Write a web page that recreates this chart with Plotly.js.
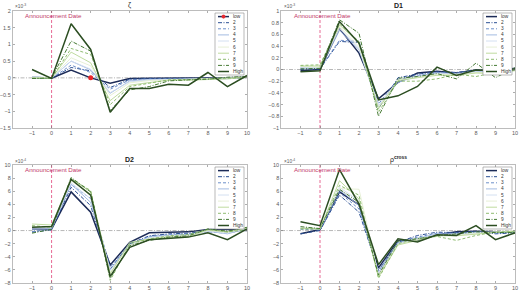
<!DOCTYPE html>
<html>
<head>
<meta charset="utf-8">
<script src="https://cdn.plot.ly/plotly-3.0.1.min.js"></script>
<style>html,body{margin:0;padding:0;background:#fff;}#chart{width:520px;height:293px;}</style>
</head>
<body>
<div id="chart"></div>
<script>
// ---------- DATA ----------
const periods = [-1, 0, 1, 2, 3, 4, 5, 6, 7, 8, 9, 10];
const xTickVals = [-1, 0, 1, 2, 3, 4, 5, 6, 7, 8, 9, 10];
const groupNames = ['low', '2', '3', '4', '5', '6', '7', '8', '9', 'High'];
const panelTitles = ['ζ', '<b>D1</b>', '<b>D2</b>', 'ρ<sup><b>cross</b></sup>'];
const panelExponents = ['-3', '-3', '-4', '-4'];
const eventLabel = 'Announcement Date';
const eventPeriod = 0;
const markedPeriod = 2;

// ζ (x 10^-3)
const zetaLow  = [0.02, -0.01, 0.23, 0.00, -0.16, -0.02, -0.01, -0.01, -0.02, -0.01, 0.00, 0.02];
const zeta2    = [-0.02, -0.01, 0.31, 0.21, -0.29, -0.04, -0.02, -0.02, -0.03, -0.02, -0.01, 0.01];
const zeta3    = [0.01, -0.01, 0.38, 0.16, -0.34, -0.06, -0.03, -0.03, -0.04, -0.03, -0.02, 0.02];
const zeta4    = [0.03, 0.00, 0.50, 0.24, -0.46, -0.09, -0.05, -0.04, -0.05, -0.03, -0.02, 0.03];
const zeta5    = [0.03, 0.00, 0.50, 0.26, -0.44, -0.12, -0.06, -0.05, -0.05, -0.04, -0.03, 0.03];
const zeta6    = [0.02, 0.00, 0.60, 0.36, -0.53, -0.15, -0.08, -0.06, -0.06, -0.04, -0.02, 0.02];
const zeta7    = [0.00, -0.01, 0.77, 0.45, -0.68, -0.22, -0.14, -0.07, -0.07, -0.05, -0.03, 0.02];
const zeta8    = [-0.01, -0.02, 0.88, 0.70, -0.80, -0.26, -0.16, -0.06, -0.05, -0.04, -0.01, 0.01];
const zeta9    = [-0.02, 0.00, 1.10, 0.80, -0.98, -0.36, -0.26, -0.09, -0.06, -0.04, 0.02, 0.04];
const zetaHigh = [0.25, -0.02, 1.62, 0.85, -1.03, -0.32, -0.32, -0.19, -0.22, 0.16, -0.26, 0.07];

// D1 (x 10^-3)
const d1Low  = [-0.02, 0.00, 0.70, 0.28, -0.50, -0.22, -0.06, -0.03, -0.06, -0.01, -0.02, 0.02];
const d1_2   = [0.00, 0.01, 0.48, 0.46, -0.67, -0.14, -0.08, -0.04, -0.05, -0.01, -0.03, 0.01];
const d1_3   = [0.02, 0.02, 0.50, 0.48, -0.59, -0.17, -0.10, -0.05, -0.06, -0.02, -0.04, 0.00];
const d1_4   = [0.03, 0.02, 0.67, 0.34, -0.63, -0.22, -0.11, -0.06, -0.07, -0.03, -0.05, -0.01];
const d1_5   = [0.04, 0.03, 0.70, 0.36, -0.62, -0.19, -0.12, -0.07, -0.08, -0.04, -0.05, 0.00];
const d1_6   = [0.05, 0.04, 0.73, 0.39, -0.64, -0.18, -0.13, -0.08, -0.09, -0.05, -0.06, -0.01];
const d1_7   = [0.06, 0.06, 0.76, 0.46, -0.67, -0.19, -0.14, -0.10, -0.10, -0.06, -0.07, -0.02];
const d1_8   = [0.07, 0.08, 0.78, 0.48, -0.73, -0.20, -0.20, -0.16, -0.08, -0.12, -0.05, -0.01];
const d1_9   = [0.01, 0.02, 0.85, 0.62, -0.80, -0.15, -0.12, -0.07, -0.16, 0.11, -0.14, 0.03];
const d1High = [-0.04, -0.02, 0.82, 0.45, -0.52, -0.45, -0.29, 0.04, -0.10, -0.01, -0.02, 0.00];

// D2 (x 10^-4)
const d2Low  = [0.25, 0.25, 5.9, 2.8, -5.25, -1.8, -0.35, -0.25, -0.2, 0.15, 0.15, 0.0];
const d2_2   = [-0.25, 0.1, 6.6, 3.8, -5.9, -2.0, -0.8, -0.5, -0.4, -0.1, -0.3, 0.1];
const d2_3   = [-0.15, 0.2, 7.0, 4.9, -5.6, -2.1, -0.9, -0.6, -0.5, -0.2, -0.4, 0.2];
const d2_4   = [0.2, 0.3, 7.1, 4.3, -6.0, -2.2, -1.0, -0.7, -0.6, -0.1, -0.5, 0.3];
const d2_5   = [0.4, 0.4, 7.3, 4.8, -6.1, -2.3, -1.1, -0.8, -0.7, -0.1, -0.4, 0.3];
const d2_6   = [0.6, 0.6, 7.6, 5.6, -6.4, -2.2, -1.2, -0.9, -0.8, 0.0, -0.3, 0.4];
const d2_7   = [1.0, 0.85, 7.9, 5.9, -6.6, -1.8, -1.3, -1.0, -0.9, 0.1, -0.2, 0.4];
const d2_8   = [0.75, 0.5, 7.9, 6.1, -7.6, -2.0, -1.3, -0.8, -0.6, 0.2, -0.2, 0.1];
const d2_9   = [-0.4, 0.2, 8.1, 5.9, -7.3, -2.3, -1.5, -1.0, -0.8, 0.25, -0.1, 0.5];
const d2High = [0.5, 0.6, 7.8, 5.4, -7.0, -2.55, -1.4, -1.2, -1.0, -0.35, -1.4, 0.25];

// rho cross (x 10^-4)
const rhoLow  = [-0.5, 0.15, 5.9, 3.9, -5.7, -1.5, -1.5, -0.65, -0.2, -0.1, -0.2, -0.2];
const rho2    = [-0.5, 0.0, 5.4, 2.8, -6.1, -1.8, -0.75, -0.25, -0.3, -0.15, -0.5, -0.35];
const rho3    = [0.2, 0.1, 5.8, 3.3, -6.2, -1.7, -1.0, -0.4, -0.4, -0.2, -0.4, -0.3];
const rho4    = [0.4, 0.2, 6.2, 3.8, -6.4, -1.9, -1.2, -0.5, -0.5, -0.3, -0.3, -0.2];
const rho5    = [0.5, 0.3, 6.6, 4.5, -6.6, -2.0, -1.3, -0.6, -0.6, -0.3, -0.2, -0.1];
const rho6    = [0.5, 0.3, 6.4, 6.3, -6.8, -2.1, -1.4, -0.7, -0.7, -0.4, -0.2, 0.0];
const rho7    = [0.3, 0.2, 7.6, 4.8, -7.1, -2.2, -1.5, -0.8, -0.8, -0.5, -0.3, -0.1];
const rho8    = [0.25, 0.3, 6.9, 5.4, -7.3, -2.0, -1.2, -0.9, -1.5, -0.75, -0.2, -0.2];
const rho9    = [0.6, 0.3, 6.3, 4.3, -6.8, -1.6, -1.25, -0.8, -0.5, -0.2, -0.3, -0.3];
const rhoHigh = [1.35, 0.75, 9.3, 4.05, -5.2, -1.25, -1.75, -0.65, -0.75, 0.75, -1.4, -0.35];

const panelSeries = [
  [zetaLow, zeta2, zeta3, zeta4, zeta5, zeta6, zeta7, zeta8, zeta9, zetaHigh],
  [d1Low, d1_2, d1_3, d1_4, d1_5, d1_6, d1_7, d1_8, d1_9, d1High],
  [d2Low, d2_2, d2_3, d2_4, d2_5, d2_6, d2_7, d2_8, d2_9, d2High],
  [rhoLow, rho2, rho3, rho4, rho5, rho6, rho7, rho8, rho9, rhoHigh]
];

// ---------- STYLE / LAYOUT ----------
const W = 520, H = 293;
const xRange = [-2, 10];
const seriesStyle = [
  {color: '#1c2b57', width: 1.5, dash: 'solid'},
  {color: '#2b4f93', width: 1.0, dash: '4px,1.5px,1px,1.5px'},
  {color: '#5c82c4', width: 0.9, dash: '3px,2px'},
  {color: '#98b3df', width: 0.9, dash: 'solid'},
  {color: '#cfdcef', width: 0.9, dash: 'solid'},
  {color: '#e4eed2', width: 0.9, dash: 'solid'},
  {color: '#b8d795', width: 0.9, dash: 'solid'},
  {color: '#82b461', width: 0.9, dash: '3px,2px'},
  {color: '#467a34', width: 1.0, dash: '4px,1.5px,1px,1.5px'},
  {color: '#2c4e22', width: 1.5, dash: 'solid'}
];
const panels = [
  {xa: 'x',  ya: 'y',  left: 12.5, right: 247, top: 11,  bottom: 128, yrange: [-1.5, 2], dtick: 0.5},
  {xa: 'x2', ya: 'y2', left: 281,  right: 515, top: 11,  bottom: 128, yrange: [-1, 1],   dtick: 0.2},
  {xa: 'x3', ya: 'y3', left: 12.5, right: 247, top: 165, bottom: 283, yrange: [-8, 10],  dtick: 2},
  {xa: 'x4', ya: 'y4', left: 281,  right: 515, top: 165, bottom: 283, yrange: [-8, 10],  dtick: 2}
];
const px = v => v / W;
const py = v => 1 - v / H;
const font = '"Liberation Sans", Arial, sans-serif';
const axisColor = '#a0a0a0';
const tickFont = {family: font, size: 5.5, color: '#5a5a5a'};

const traces = [];
const shapes = [];
const annotations = [];
const layout = {
  width: W, height: H,
  margin: {l: 0, r: 0, t: 0, b: 0},
  paper_bgcolor: '#fff', plot_bgcolor: '#fff',
  showlegend: false,
  font: {family: font}
};

panels.forEach((p, k) => {
  const xKey = 'xaxis' + (k === 0 ? '' : k + 1);
  const yKey = 'yaxis' + (k === 0 ? '' : k + 1);
  layout[xKey] = {
    domain: [px(p.left), px(p.right)], anchor: p.ya, range: xRange,
    tickvals: xTickVals, ticks: 'inside', ticklen: 2, tickwidth: 0.6, tickcolor: '#777',
    showline: true, linecolor: axisColor, linewidth: 0.7, mirror: 'ticks',
    showgrid: false, zeroline: false, tickfont: tickFont, fixedrange: true
  };
  layout[yKey] = {
    domain: [py(p.bottom), py(p.top)], anchor: p.xa, range: p.yrange,
    tick0: p.yrange[0], dtick: p.dtick, ticks: 'inside', ticklen: 2, tickwidth: 0.6, tickcolor: '#777',
    showline: true, linecolor: axisColor, linewidth: 0.7, mirror: 'ticks',
    showgrid: false, zeroline: false, tickfont: tickFont, fixedrange: true
  };

  // zero line and event line (beneath data)
  shapes.push({type: 'line', xref: p.xa, x0: xRange[0], x1: xRange[1], yref: p.ya, y0: 0, y1: 0,
    line: {color: '#9a9a9a', width: 0.7, dash: '4px,1.5px,1px,1.5px'}, layer: 'below'});
  shapes.push({type: 'line', xref: p.xa, x0: eventPeriod, x1: eventPeriod, yref: p.ya, y0: p.yrange[0], y1: p.yrange[1],
    line: {color: '#e0457a', width: 0.8, dash: '3px,2px'}, layer: 'below'});

  // data lines
  panelSeries[k].forEach((ys, i) => {
    const s = seriesStyle[i];
    traces.push({
      type: 'scatter', mode: 'lines', x: periods, y: ys,
      xaxis: p.xa, yaxis: p.ya, name: groupNames[i],
      line: {color: s.color, width: s.width, dash: s.dash},
      hoverinfo: 'skip'
    });
  });

  // event label
  annotations.push({xref: p.xa, x: -1.45, xanchor: 'left', yref: 'paper', y: py(p.top + 4.7), yanchor: 'middle',
    text: eventLabel, showarrow: false, font: {family: font, size: 6.2, color: '#c2386a'}});

  // title
  annotations.push({xref: 'paper', x: px((p.left + p.right) / 2), xanchor: 'center',
    yref: 'paper', y: py(p.top - 6), yanchor: 'middle',
    text: panelTitles[k], showarrow: false, font: {family: font, size: 7, color: '#1a1a1a'}});

  // exponent
  annotations.push({xref: 'paper', x: px(p.left + 0.5), xanchor: 'left', yref: 'paper', y: py(p.top - 4.5), yanchor: 'middle',
    text: '×10<sup>' + panelExponents[k] + '</sup>', showarrow: false, font: {family: font, size: 4.8, color: '#5a5a5a'}});

  // legend box
  const bRight = p.right - 3, bLeft = bRight - 29, bTop = p.top + 2, bBot = bTop + 62;
  shapes.push({type: 'rect', xref: 'paper', yref: 'paper', x0: px(bLeft), x1: px(bRight), y0: py(bBot), y1: py(bTop),
    fillcolor: '#ffffff', line: {color: '#8a8a8a', width: 0.6}, layer: 'above'});
  groupNames.forEach((nm, i) => {
    const s = seriesStyle[i];
    const ry = bTop + 3.6 + i * 6.1;
    shapes.push({type: 'line', xref: 'paper', yref: 'paper', x0: px(bLeft + 3), x1: px(bLeft + 14), y0: py(ry), y1: py(ry),
      line: {color: s.color, width: s.width, dash: s.dash}, layer: 'above'});
    annotations.push({xref: 'paper', x: px(bLeft + 15.5), xanchor: 'left', yref: 'paper', y: py(ry), yanchor: 'middle',
      text: nm, showarrow: false, font: {family: font, size: 4.8, color: '#333'}});
    if (k === 0 && i === 0) {
      const cx = bLeft + 8.5;
      shapes.push({type: 'circle', xref: 'paper', yref: 'paper', x0: px(cx - 1.8), x1: px(cx + 1.8), y0: py(ry + 1.8), y1: py(ry - 1.8),
        fillcolor: '#e8262b', line: {color: '#e8262b', width: 0.3}, layer: 'above'});
    }
  });
});

// red marker on the low series of the first panel
const mIdx = periods.indexOf(markedPeriod);
traces.push({
  type: 'scatter', mode: 'markers', x: [periods[mIdx]], y: [zetaLow[mIdx]],
  xaxis: 'x', yaxis: 'y', marker: {color: '#e8262b', size: 5}, hoverinfo: 'skip', name: groupNames[0]
});

layout.shapes = shapes;
layout.annotations = annotations;
Plotly.newPlot('chart', traces, layout, {displayModeBar: false, staticPlot: true});
</script>
</body>
</html>
